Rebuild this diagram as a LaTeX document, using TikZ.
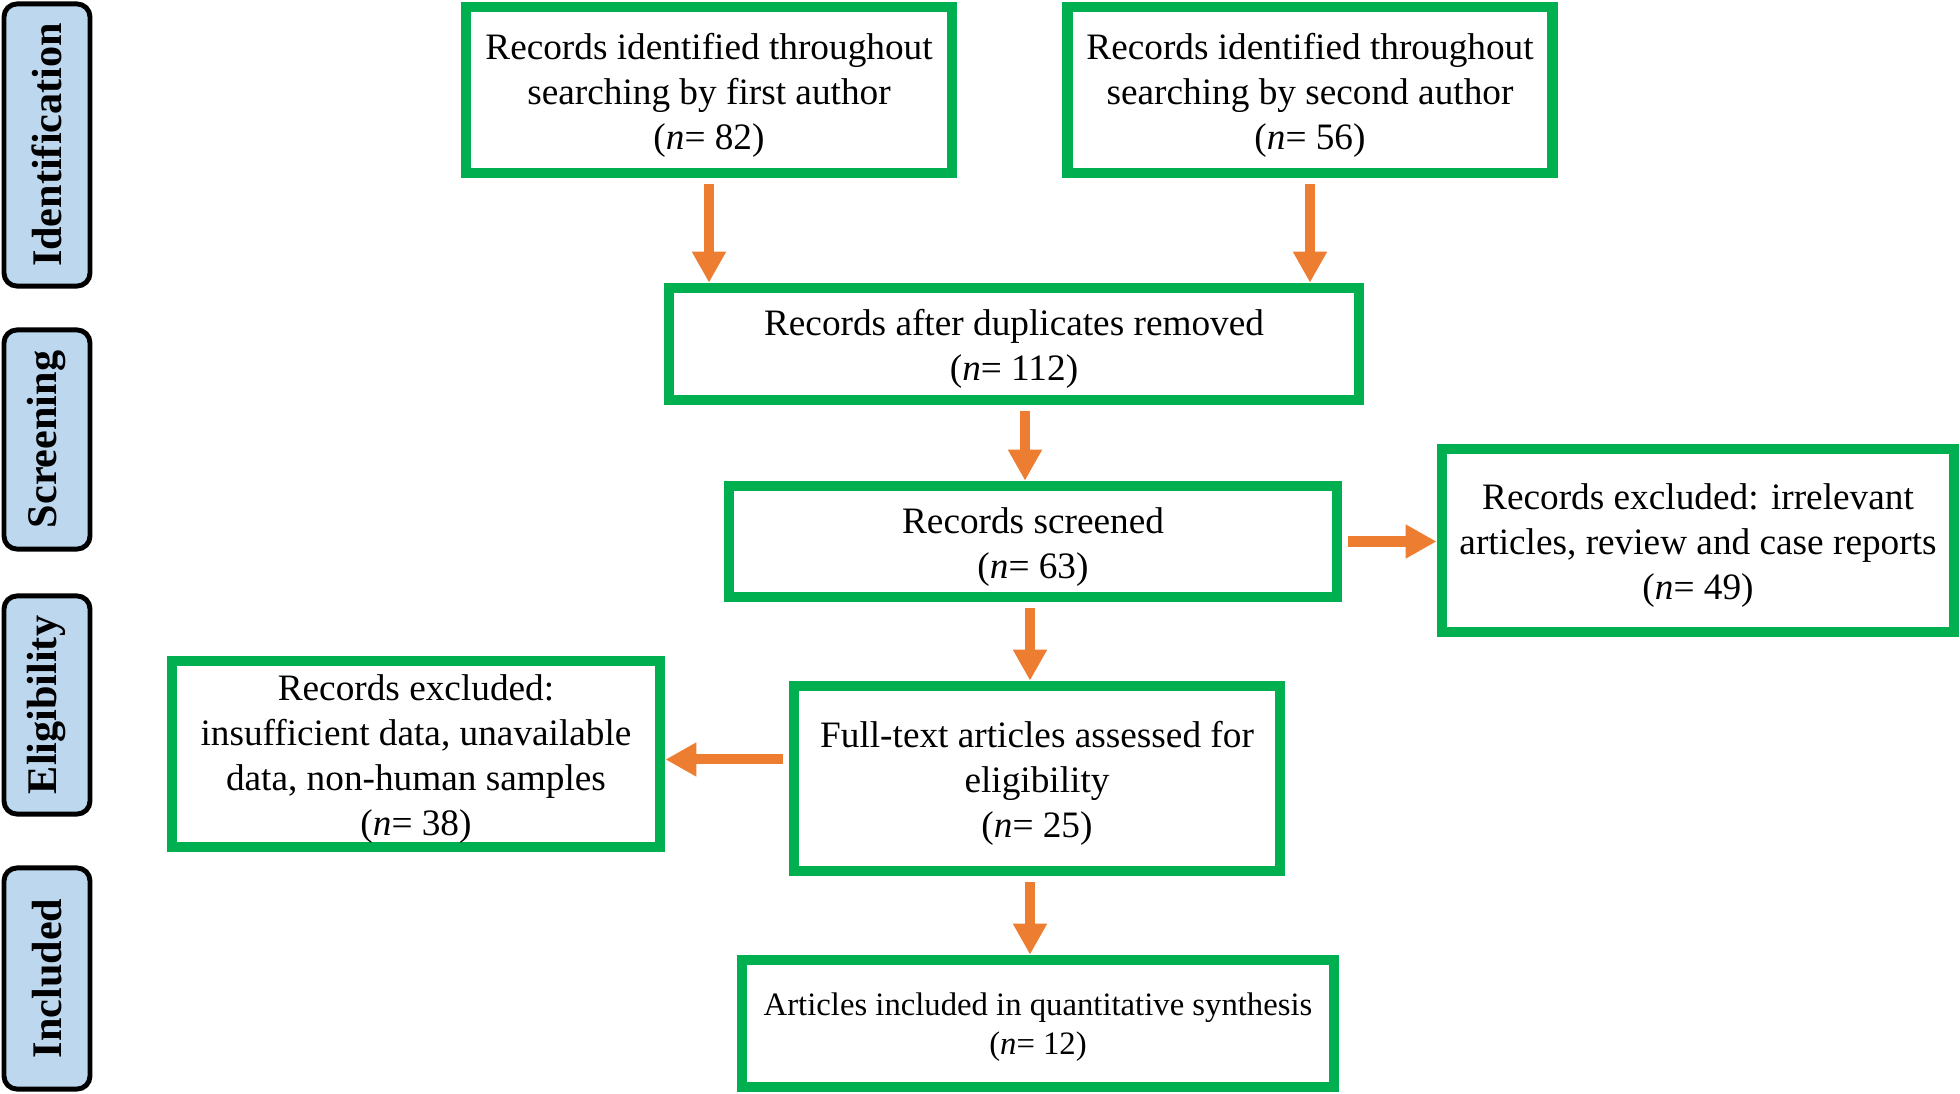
\documentclass[tikz,border=0pt]{standalone}
\usepackage{fontspec}
\setmainfont{Liberation Serif}
\usetikzlibrary{arrows.meta}
\definecolor{boxgreen}{RGB}{0,176,80}
\definecolor{arroworange}{RGB}{237,125,49}
\definecolor{stageblue}{RGB}{189,215,238}
\newcommand{\padtop}[1][10.4pt]{\rule{0pt}{#1}}

\begin{document}
\begin{tikzpicture}[x=0.01cm, y=-0.01cm,
    box/.style = {draw=boxgreen, line width=3pt, align=center, inner sep=0pt,
      font=\fontsize{10.6}{12.8}\selectfont},
    stage/.style = {draw=black, fill=stageblue, line width=1.4pt, rounded corners=0.13cm,
      rotate=90, minimum height=0.86cm, inner sep=0pt, font=\fontsize{12}{14}\selectfont\bfseries},
    flow/.style = {-{Triangle[width=0.32cm, length=0.31cm]}, line width=0.1cm,
      draw=arroworange, shorten <=0.06cm}]
  \useasboundingbox (0,0) rectangle (1960,1094);

  \node[stage, minimum width=2.82cm] (ident) at (47,145) {Identification};
  \node[stage, minimum width=2.19cm] (screen) at (47,439.5) {Screening};
  \node[stage, minimum width=2.18cm] (elig) at (47,705) {Eligibility};
  \node[stage, minimum width=2.21cm] (incl) at (47,978.5) {Included};

  \node[box, minimum width=4.86cm, minimum height=1.66cm] (b1) at (709,90)
    {\padtop Records identified throughout\\searching by first author\\(\textit{n}= 82)};
  \node[box, minimum width=4.85cm, minimum height=1.66cm] (b2) at (1310,90)
    {\padtop Records identified throughout\\searching by second author\\(\textit{n}= 56)};
  \node[box, minimum width=6.90cm, minimum height=1.12cm] (b3) at (1014,344)
    {\padtop Records after duplicates removed\\(\textit{n}= 112)};
  \node[box, minimum width=6.08cm, minimum height=1.11cm] (b4) at (1033,541.5)
    {\padtop Records screened\\(\textit{n}= 63)};
  \node[box, minimum width=5.12cm, minimum height=1.83cm] (b5) at (1698,540.5)
    {\padtop Records excluded: irrelevant\\articles, review and case reports\\(\textit{n}= 49)};
  \node[box, minimum width=4.86cm, minimum height=1.85cm] (b6) at (1037,778.5)
    {\padtop Full-text articles assessed for\\eligibility\\(\textit{n}= 25)};
  \node[box, minimum width=4.88cm, minimum height=1.86cm] (b7) at (416,754)
    {\padtop Records excluded:\\insufficient data, unavailable\\data, non-human samples\\(\textit{n}= 38)};
  \node[box, minimum width=5.92cm, minimum height=1.27cm, font=\fontsize{9.3}{11}\selectfont] (b8) at (1038,1023.5)
    {\padtop[8.6pt]Articles included in quantitative synthesis\\(\textit{n}= 12)};

  \draw[flow] (b1.south) -- (b1.south |- b3.north);
  \draw[flow] (b2.south) -- (b2.south |- b3.north);
  \draw[flow] ([xshift=0.11cm]b3.south) -- ([xshift=0.11cm]b3.south |- b4.north);
  \draw[flow] (b4.east) -- (b4.east -| b5.west);
  \draw[flow] ([xshift=-0.03cm]b4.south) -- ([xshift=-0.03cm]b4.south |- b6.north);
  \draw[flow] ([yshift=0.19cm]b6.west) -- ([yshift=0.19cm]b6.west -| b7.east);
  \draw[flow] ([xshift=-0.07cm]b6.south) -- ([xshift=-0.07cm]b6.south |- b8.north);
\end{tikzpicture}
\end{document}
